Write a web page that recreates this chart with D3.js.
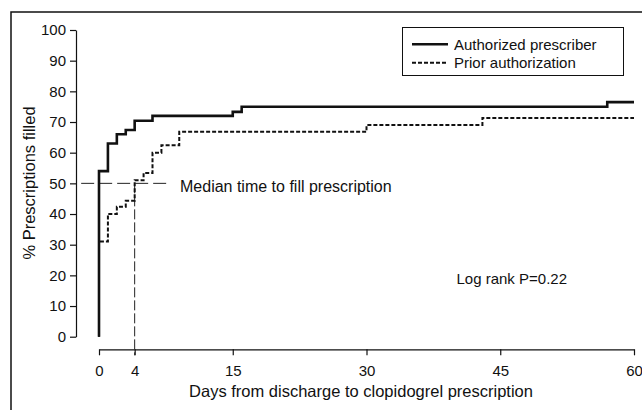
<!DOCTYPE html>
<html>
<head>
<meta charset="utf-8">
<script src="https://cdn.jsdelivr.net/npm/d3@7"></script>
<style>
  body { margin: 0; background: #fff; }
  svg text { font-family: "Liberation Sans", Arial, Helvetica, sans-serif; fill: #111; }
</style>
</head>
<body>
<div id="vis"></div>
<script>
// chart size
var width = 642;
var height = 410;

// Kaplan-Meier style step curves (day, % filled)
var authDays = [0, 0, 1, 2, 3, 4, 6, 15, 16, 57, 60];
var authPct = [0, 54, 63, 66, 67.4, 70.4, 72, 73.3, 75, 76.5, 76.5];
var priorDays = [0, 0, 1, 2, 3, 4, 5, 6, 7, 9, 30, 43, 60];
var priorPct = [0, 31, 40, 42.4, 44.3, 51, 53.4, 60, 62.4, 66.8, 69, 71.3, 71.3];

// axis ticks
var xTicks = [0, 4, 15, 30, 45, 60];
var yTicks = [0, 10, 20, 30, 40, 50, 60, 70, 80, 90, 100];

var seriesNames = ["Authorized prescriber", "Prior authorization"];
var medianPct = 50;
var medianDay = 4;

var svg = d3.select("#vis").append("svg")
  .attr("width", width)
  .attr("height", height);

// outer frame (runs off the right and bottom edges)
svg.append("rect")
  .attr("x", 11).attr("y", 12)
  .attr("width", 700).attr("height", 500)
  .attr("fill", "none")
  .attr("stroke", "#111")
  .attr("stroke-width", 1.5);

var x = d3.scaleLinear().domain([0, 60]).range([99, 634]);
var y = d3.scaleLinear().domain([0, 100]).range([336.7, 30]);
var xAxisY = 349.3;
var yAxisX = 76;

// y axis
var gy = svg.append("g")
  .attr("transform", "translate(" + yAxisX + ",0)")
  .call(d3.axisLeft(y).tickValues(yTicks).tickSize(6).tickSizeOuter(0).tickPadding(4));
gy.selectAll("text").style("font-size", "15px");

// x axis
var gx = svg.append("g")
  .attr("transform", "translate(0," + xAxisY + ")")
  .call(d3.axisBottom(x).tickValues(xTicks).tickFormat(d3.format("d")).tickSize(6).tickSizeOuter(0).tickPadding(10));
gx.selectAll("text").style("font-size", "15px");

svg.selectAll(".domain, .tick line").attr("stroke", "#111").attr("stroke-width", 1.2);

// axis titles
svg.append("text")
  .attr("x", 361).attr("y", 397)
  .attr("text-anchor", "middle")
  .style("font-size", "16.5px")
  .text("Days from discharge to clopidogrel prescription");

svg.append("text")
  .attr("transform", "translate(35,183) rotate(-90)")
  .attr("text-anchor", "middle")
  .style("font-size", "16.5px")
  .text("% Prescriptions filled");

// median reference lines
svg.append("line")
  .attr("x1", x(-2)).attr("x2", x(8))
  .attr("y1", y(medianPct)).attr("y2", y(medianPct))
  .attr("stroke", "#222").attr("stroke-width", 1)
  .attr("stroke-dasharray", "13,5");

svg.append("line")
  .attr("x1", x(medianDay)).attr("x2", x(medianDay))
  .attr("y1", y(medianPct)).attr("y2", xAxisY + 6)
  .attr("stroke", "#222").attr("stroke-width", 1)
  .attr("stroke-dasharray", "10,3");

svg.append("text")
  .attr("x", 180).attr("y", 192)
  .style("font-size", "16px")
  .text("Median time to fill prescription");

// step curves
var line = d3.line()
  .x(function (d) { return x(d[0]); })
  .y(function (d) { return y(d[1]); })
  .curve(d3.curveStepAfter);

var priorData = d3.zip(priorDays, priorPct);
var authData = d3.zip(authDays, authPct);

svg.append("path")
  .datum(priorData)
  .attr("d", line)
  .attr("fill", "none")
  .attr("stroke", "#111")
  .attr("stroke-width", 2)
  .attr("stroke-dasharray", "4,2");

svg.append("path")
  .datum(authData)
  .attr("d", line)
  .attr("fill", "none")
  .attr("stroke", "#111")
  .attr("stroke-width", 2.6);

// legend
var legend = svg.append("g");
legend.append("rect")
  .attr("x", 402.5).attr("y", 27.5)
  .attr("width", 221).attr("height", 48)
  .attr("fill", "#fff")
  .attr("stroke", "#111").attr("stroke-width", 1);

seriesNames.forEach(function (name, i) {
  var ly = 44.3 + i * 18.4;
  legend.append("line")
    .attr("x1", 412).attr("x2", 448)
    .attr("y1", ly).attr("y2", ly)
    .attr("stroke", "#111")
    .attr("stroke-width", i === 0 ? 2.6 : 2)
    .attr("stroke-dasharray", i === 0 ? null : "4,2");
  legend.append("text")
    .attr("x", 454).attr("y", ly + 5.5)
    .style("font-size", "15px")
    .text(name);
});

svg.append("text")
  .attr("x", 456.5).attr("y", 283.5)
  .style("font-size", "15px")
  .text("Log rank P=0.22");
</script>
</body>
</html>
